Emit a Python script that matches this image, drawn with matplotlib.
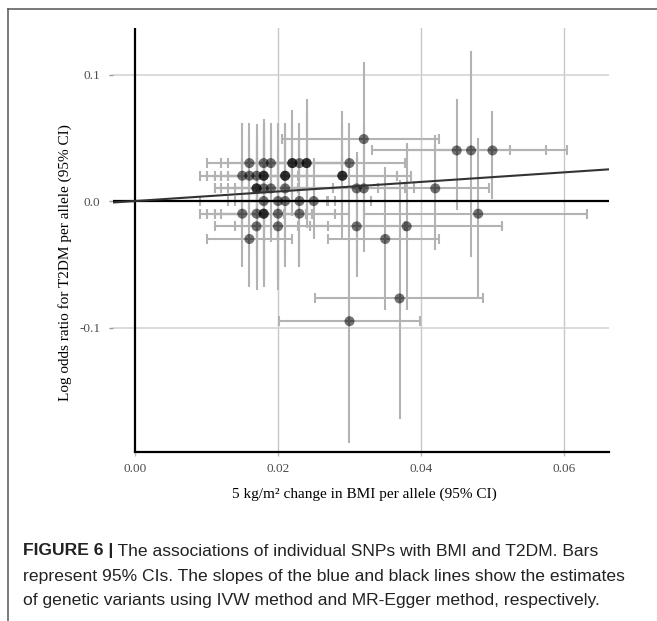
import matplotlib
matplotlib.use("Agg")
import matplotlib.pyplot as plt
from matplotlib.lines import Line2D
import numpy as np

# ---- data: SNP associations (BMI effect, T2DM log OR) with 95% CIs ----
bmi_beta = [0.032, 0.045, 0.047, 0.050,
            0.016, 0.018, 0.019, 0.022, 0.022, 0.023, 0.024, 0.024, 0.030,
            0.015, 0.016, 0.017, 0.018, 0.018, 0.021, 0.021, 0.029, 0.029,
            0.017, 0.017, 0.018, 0.019, 0.021, 0.031, 0.032, 0.042,
            0.018, 0.020, 0.021, 0.023, 0.025,
            0.015, 0.017, 0.018, 0.018, 0.020, 0.023, 0.048,
            0.017, 0.020, 0.031, 0.038,
            0.016, 0.035,
            0.037, 0.030]
t2dm_beta = [0.049, 0.040, 0.040, 0.040,
             0.030, 0.030, 0.030, 0.030, 0.030, 0.030, 0.030, 0.030, 0.030,
             0.020, 0.020, 0.020, 0.020, 0.020, 0.020, 0.020, 0.020, 0.020,
             0.010, 0.010, 0.010, 0.010, 0.010, 0.010, 0.010, 0.010,
             0.000, 0.000, 0.000, 0.000, 0.000,
             -0.010, -0.010, -0.010, -0.010, -0.010, -0.010, -0.010,
             -0.020, -0.020, -0.020, -0.020,
             -0.030, -0.030,
             -0.077, -0.095]
bmi_lo = [0.0205, 0.0331, 0.0419, 0.0380,
          0.0101, 0.0120, 0.0130, 0.0150, 0.0150, 0.0160, 0.0170, 0.0170, 0.0220,
          0.0091, 0.0101, 0.0112, 0.0120, 0.0120, 0.0130, 0.0130, 0.0210, 0.0210,
          0.0112, 0.0112, 0.0120, 0.0130, 0.0140, 0.0240, 0.0250, 0.0340,
          0.0091, 0.0130, 0.0140, 0.0150, 0.0170,
          0.0091, 0.0101, 0.0112, 0.0112, 0.0120, 0.0160, 0.0320,
          0.0112, 0.0140, 0.0245, 0.0245,
          0.0101, 0.0270,
          0.0252, 0.0201]
bmi_hi = [0.0425, 0.0575, 0.0525, 0.0604,
          0.0220, 0.0240, 0.0250, 0.0290, 0.0290, 0.0300, 0.0310, 0.0310, 0.0377,
          0.0209, 0.0219, 0.0228, 0.0240, 0.0240, 0.0290, 0.0290, 0.0366, 0.0386,
          0.0228, 0.0228, 0.0240, 0.0250, 0.0277, 0.0377, 0.0390, 0.0495,
          0.0268, 0.0270, 0.0280, 0.0310, 0.0330,
          0.0209, 0.0239, 0.0248, 0.0248, 0.0280, 0.0300, 0.0632,
          0.0228, 0.0270, 0.0377, 0.0514,
          0.0219, 0.0425,
          0.0487, 0.0399]
t2dm_lo = [-0.013, -0.007, -0.044, 0.002,
           -0.002, -0.005, -0.002, -0.002, -0.012, -0.002, -0.021, -0.011, -0.002,
           -0.022, -0.012, -0.012, -0.012, -0.022, -0.022, -0.012, -0.031, -0.021,
           -0.041, -0.031, -0.032, -0.032, -0.042, -0.049, -0.040, -0.039,
           -0.062, -0.062, -0.052, -0.052, -0.030,
           -0.052, -0.062, -0.062, -0.068, -0.062, -0.052, -0.077,
           -0.070, -0.070, -0.060, -0.086,
           -0.068, -0.086,
           -0.172, -0.191]
t2dm_hi = [0.110, 0.081, 0.119, 0.071,
           0.062, 0.065, 0.062, 0.062, 0.072, 0.062, 0.081, 0.071, 0.062,
           0.062, 0.052, 0.052, 0.052, 0.062, 0.062, 0.052, 0.071, 0.061,
           0.061, 0.051, 0.052, 0.052, 0.062, 0.039, 0.060, 0.052,
           0.062, 0.062, 0.052, 0.052, 0.030,
           0.032, 0.042, 0.042, 0.048, 0.042, 0.032, 0.050,
           0.030, 0.030, 0.020, 0.046,
           0.008, 0.027,
           0.017, 0.000]

ivw_slope = 0.378

x_ticks = [0.00, 0.02, 0.04, 0.06]
x_tick_labels = ["0.00", "0.02", "0.04", "0.06"]
y_ticks = [-0.1, 0.0, 0.1]
y_tick_labels = ["-0.1", "0.0", "0.1"]

x_label = "5 kg/m\u00b2 change in BMI per allele (95% CI)"
y_label = "Log odds ratio for T2DM per allele (95% CI)"
caption_bold = "FIGURE 6 |"
caption_l1 = " The associations of individual SNPs with BMI and T2DM. Bars"
caption_l2 = "represent 95% CIs. The slopes of the blue and black lines show the estimates"
caption_l3 = "of genetic variants using IVW method and MR-Egger method, respectively."

# ---- figure ----
W, H = 657, 621
fig = plt.figure(figsize=(W / 100, H / 100), dpi=100)
fig.patch.set_facecolor("white")

left_px, right_px, top_px, bot_px = 113, 609, 28, 452
ax = fig.add_axes([left_px / W, 1 - bot_px / H, (right_px - left_px) / W, (bot_px - top_px) / H])

xmin, xmax = -0.00308, 0.0663
ymin, ymax = -0.1984, 0.1368
ax.set_xlim(xmin, xmax)
ax.set_ylim(ymin, ymax)

bx = np.array(bmi_beta)
by = np.array(t2dm_beta)
xerr = np.vstack([bx - np.array(bmi_lo), np.array(bmi_hi) - bx])
yerr = np.vstack([by - np.array(t2dm_lo), np.array(t2dm_hi) - by])

# grid
for xv in x_ticks[1:]:
    ax.axvline(xv, color="#c8c8c8", lw=1.0, zorder=0)
for yv in [-0.1, 0.1]:
    ax.axhline(yv, color="#d4d4d4", lw=1.2, zorder=0)

# error bars
bar_col = "#b3b3b3"
ax.errorbar(bx, by, xerr=xerr, fmt="none", ecolor=bar_col,
            elinewidth=1.5, capsize=3.4, capthick=1.5, zorder=2)
ax.errorbar(bx, by, yerr=yerr, fmt="none", ecolor=bar_col,
            elinewidth=1.5, capsize=0, zorder=2)
# points
ax.scatter(bx, by, s=52, color="black", alpha=0.55, edgecolors="none", zorder=3)

# reference lines
ax.axhline(0, color="black", lw=1.6, zorder=4)
ax.axvline(0, color="black", lw=1.6, zorder=4)
xs = np.array([xmin, xmax])
ax.plot(xs, ivw_slope * xs, color="#333333", lw=1.5, zorder=5, solid_capstyle="butt")

# spines
for s in ["top", "right", "left"]:
    ax.spines[s].set_visible(False)
ax.spines["bottom"].set_bounds(0, xmax)
ax.spines["bottom"].set_linewidth(1.6)
ax.spines["bottom"].set_color("black")

serif = ["Liberation Serif", "DejaVu Serif"]
ax.set_xticks(x_ticks)
ax.set_xticklabels(x_tick_labels, family=serif, fontsize=9.5, color="#4d4d4d")
ax.set_yticks(y_ticks)
ax.set_yticklabels(y_tick_labels, family=serif, fontsize=9.5, color="#4d4d4d")
ax.tick_params(axis="x", length=3, width=1, color="#bbbbbb", pad=5)
ax.tick_params(axis="y", length=3, width=1, color="#999999", pad=6)

ax.set_xlabel(x_label, family=serif, fontsize=11, color="black")
ax.xaxis.label.set_va("center")
ax.xaxis.set_label_coords((364 - left_px) / (right_px - left_px), -(494 - bot_px) / (bot_px - top_px))
ax.set_ylabel(y_label, family=serif, fontsize=11, color="black")
ax.yaxis.label.set_va("center")
ax.yaxis.set_label_coords(-(left_px - 65) / (right_px - left_px), (bot_px - 263) / (bot_px - top_px))

# figure frame (left and top)
frame_x = 7.5 / W
frame_y = 1 - 9 / H
fig.add_artist(Line2D([frame_x, frame_x], [0, frame_y], transform=fig.transFigure, color="#555555", lw=1.1))
fig.add_artist(Line2D([frame_x, 1], [frame_y, frame_y], transform=fig.transFigure, color="#555555", lw=1.1))

# caption
sans = ["Liberation Sans", "DejaVu Sans"]
cap_fs = 12.6
cx = 23 / W
y1, y2, y3 = 1 - 551 / H, 1 - 576 / H, 1 - 601 / H
t_b = fig.text(cx, y1, caption_bold, family=sans, fontsize=cap_fs, weight="bold", va="center", ha="left", color="#222222")
fig.canvas.draw()
bb = t_b.get_window_extent(renderer=fig.canvas.get_renderer())
fig.text(bb.x1 / W, y1, caption_l1, family=sans, fontsize=cap_fs, va="center", ha="left", color="#222222")
fig.text(cx, y2, caption_l2, family=sans, fontsize=cap_fs, va="center", ha="left", color="#222222")
fig.text(cx, y3, caption_l3, family=sans, fontsize=cap_fs, va="center", ha="left", color="#222222")

fig.savefig("out.png", dpi=100)
